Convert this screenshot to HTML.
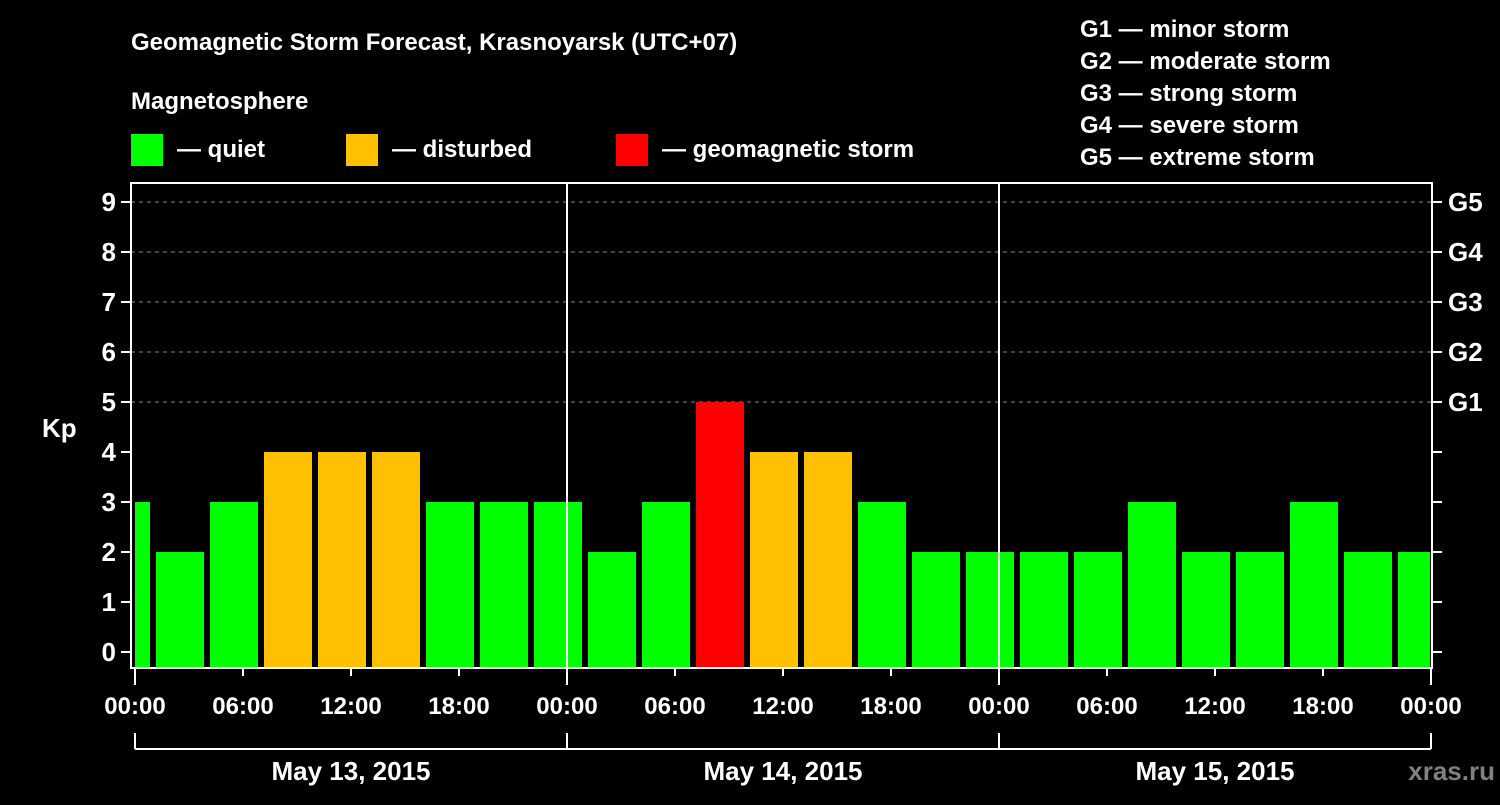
<!DOCTYPE html>
<html><head><meta charset="utf-8"><style>
body{margin:0;background:#000;width:1500px;height:800px;overflow:hidden}
svg text{font-family:"Liberation Sans",sans-serif;font-weight:bold;fill:#fff}
</style></head><body>
<svg id="c" width="1500" height="800" xmlns="http://www.w3.org/2000/svg">
<text x="131" y="50" font-size="24">Geomagnetic Storm Forecast, Krasnoyarsk (UTC+07)</text>
<text x="131" y="109" font-size="24">Magnetosphere</text>
<rect x="131" y="134" width="32" height="32" fill="#00ff00"/>
<text x="177" y="157" font-size="24">— quiet</text>
<rect x="346" y="134" width="32" height="32" fill="#ffc000"/>
<text x="392" y="157" font-size="24">— disturbed</text>
<rect x="616" y="134" width="32" height="32" fill="#ff0000"/>
<text x="662" y="157" font-size="24">— geomagnetic storm</text>
<g font-size="24">
<text x="1080" y="37">G1 — minor storm</text>
<text x="1080" y="69">G2 — moderate storm</text>
<text x="1080" y="101">G3 — strong storm</text>
<text x="1080" y="133">G4 — severe storm</text>
<text x="1080" y="165">G5 — extreme storm</text>
</g>
<text x="42" y="437" font-size="26">Kp</text>
<text x="1495" y="780" font-size="26" text-anchor="end" style="fill:#808080">xras.ru</text>
<g id="plot"></g>
</svg>
<script>
const kpValues=[3,2,3,4,4,4,3,3,3,2,3,5,4,4,3,2,2,2,2,3,2,2,3,2,2];
const startHours=[-2,1,4,7,10,13,16,19,22,25,28,31,34,37,40,43,46,49,52,55,58,61,64,67,70];
const dayLabels=["May 13, 2015","May 14, 2015","May 15, 2015"];
const timeLabels=["00:00","06:00","12:00","18:00"];
const gLabels=["G1","G2","G3","G4","G5"];
const NS="http://www.w3.org/2000/svg";
const g=document.getElementById('plot');
const L=131,R=1432,T=183,B=668,X0=135,PXH=18,MAXH=72;
const xs=h=>X0+h*PXH;
const ys=k=>652-k*50;
function mk(t,a){const e=document.createElementNS(NS,t);for(const k in a)e.setAttribute(k,a[k]);g.appendChild(e);return e;}
// grid
for(let k=5;k<=9;k++){
 const e=mk('line',{x1:L,x2:R,y1:ys(k),y2:ys(k),stroke:'#888','stroke-dasharray':'4 4','stroke-width':1});
 
 
}
// bars
kpValues.forEach((v,i)=>{
 let x1=Math.max(xs(startHours[i])+3,X0),x2=Math.min(xs(startHours[i]+3)-3,R-2);
 const c=v>=5?'#ff0000':v>=4?'#ffc000':'#00ff00';
 const e=mk('rect',{x:x1,y:ys(v),width:x2-x1,height:B-ys(v),fill:c});
 
 
});
// day separators
for(let d=1;d<3;d++){const e=mk('line',{x1:xs(d*24),x2:xs(d*24),y1:T,y2:B,stroke:'#fff','stroke-width':2});
 
 }
// frame
const fr=mk('rect',{x:L,y:T,width:R-L,height:B-T,fill:'none',stroke:'#fff','stroke-width':2});


// y ticks
for(let k=0;k<=9;k++){
 mk('line',{x1:L-10,x2:L,y1:ys(k),y2:ys(k),stroke:'#fff','stroke-width':2});
 mk('line',{x1:R,x2:R+10,y1:ys(k),y2:ys(k),stroke:'#fff','stroke-width':2});
 const t=mk('text',{x:L-15,y:ys(k)+9,'font-size':26,'text-anchor':'end'});t.textContent=k;
 
 
}
gLabels.forEach((s,i)=>{const t=mk('text',{x:1448,y:ys(5+i)+9,'font-size':26});t.textContent=s;
 
 });
// x ticks
for(let h=0;h<=MAXH;h+=6){
 const len=h%24===0?17:8;
 mk('line',{x1:xs(h),x2:xs(h),y1:B,y2:B+len,stroke:'#fff','stroke-width':2});
 const t=mk('text',{x:xs(h),y:B+46,'font-size':24,'text-anchor':'middle'});t.textContent=timeLabels[(h/6)%4];
 
 
}
// day brackets
mk('line',{x1:X0,x2:xs(MAXH),y1:749,y2:749,stroke:'#fff','stroke-width':2});
for(let d=0;d<=3;d++)mk('line',{x1:xs(d*24),x2:xs(d*24),y1:733,y2:749,stroke:'#fff','stroke-width':2});
dayLabels.forEach((s,d)=>{const t=mk('text',{x:xs(d*24+12),y:780,'font-size':26,'text-anchor':'middle'});t.textContent=s;
 
 });
</script>
</body></html>
